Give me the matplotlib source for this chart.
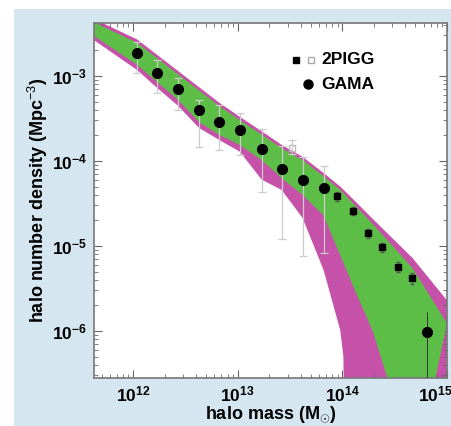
import numpy as np
import matplotlib
matplotlib.use("Agg")
from matplotlib import pyplot as plt
from matplotlib.patches import Rectangle
import matplotlib.transforms as mtransforms

plt.rcParams['font.family'] = ['Liberation Sans Narrow', 'Liberation Sans', 'DejaVu Sans']
plt.rcParams['mathtext.fontset'] = 'custom'
plt.rcParams['mathtext.rm'] = 'Liberation Sans'

# band edges, log10 of halo mass and log10 of number density
band_logm = [11.63, 12.04, 12.23, 12.43, 12.63, 12.82, 13.02, 13.23, 13.42, 13.62,
             13.82, 13.98, 14.12, 14.29, 14.43, 14.67, 15.0]
green_top = [-2.37, -2.61, -2.79, -2.98, -3.17, -3.35, -3.52, -3.69, -3.85, -3.99,
             -4.18, -4.34, -4.52, -4.74, -4.93, -5.26, -5.91]
magenta_top = [-2.33, -2.57, -2.75, -2.94, -3.13, -3.31, -3.48, -3.65, -3.81, -3.95,
               -4.14, -4.30, -4.47, -4.68, -4.85, -5.14, -5.64]

green_bot_logm = [11.63, 12.04, 12.23, 12.43, 12.63, 12.82, 13.02, 13.23, 13.42, 13.62,
                  13.82, 13.98, 14.12, 14.29, 14.43, 14.47]
green_bot = [-2.53, -2.87, -3.07, -3.28, -3.54, -3.69, -3.81, -3.99, -4.20, -4.40,
             -4.64, -5.11, -5.52, -6.00, -6.55, -9.0]

magenta_bot_logm = [11.63, 12.04, 12.23, 12.43, 12.63, 12.82, 13.02, 13.23, 13.42, 13.62,
                    13.82, 13.98, 14.01, 14.04]
magenta_bot = [-2.58, -2.93, -3.14, -3.35, -3.61, -3.75, -3.89, -4.22, -4.34, -4.67,
               -5.28, -5.99, -6.30, -9.0]

# GAMA points
gama_mass = [1.09e12, 1.70e12, 2.69e12, 4.27e12, 6.62e12, 1.05e13, 1.71e13, 2.65e13, 4.21e13, 6.67e13, 6.43e14]
gama_n = [1.87e-3, 1.08e-3, 7.0e-4, 4.0e-4, 2.88e-4, 2.32e-4, 1.38e-4, 8.05e-5, 5.97e-5, 4.81e-5, 9.7e-7]
gama_hi = [2.51e-3, 1.54e-3, 9.5e-4, 5.2e-4, 4.56e-4, 3.67e-4, 2.38e-4, 1.50e-4, 1.11e-4, 8.7e-5, 1.67e-6]
gama_lo = [1.08e-3, 6.3e-4, 4.0e-4, 1.46e-4, 1.35e-4, 1.18e-4, 4.3e-5, 1.21e-5, 7.6e-6, 8.3e-6, 1e-8]

# 2PIGG points
pigg_mass = [8.9e13, 1.26e14, 1.75e14, 2.39e14, 3.40e14, 4.62e14]
pigg_n = [3.87e-5, 2.58e-5, 1.42e-5, 9.7e-6, 5.66e-6, 4.2e-6]
pigg_hi = [4.3e-5, 2.85e-5, 1.6e-5, 1.08e-5, 6.4e-6, 4.8e-6]
pigg_lo = [3.4e-5, 2.3e-5, 1.25e-5, 8.5e-6, 4.9e-6, 3.6e-6]
pigg_open_mass = [3.3e13]
pigg_open_n = [1.42e-4]
pigg_open_hi = [1.75e-4]
pigg_open_lo = [1.2e-4]

green = '#5dbe47'
magenta = '#c651a9'
bg = '#d6e6f0'

fig = plt.figure(figsize=(4.52, 4.26), dpi=100)
fig.patch.set_facecolor('white')
fig.patches.append(Rectangle((14 / 452, 0), 1, 1 - 9 / 426, transform=fig.transFigure,
                             facecolor=bg, edgecolor='none', zorder=-10))
ax = fig.add_axes([94 / 452, 1 - 378 / 426, 353 / 452, 355 / 426])
ax.set_facecolor('white')

bm = 10 ** np.array(band_logm)
# magenta envelope, closed far below the axes
mx = np.concatenate([bm, [1e15, 1e15], 10 ** np.array(magenta_bot_logm)[::-1]])
my = np.concatenate([10 ** np.array(magenta_top), [1e-10, 1e-10], 10 ** np.array(magenta_bot)[::-1]])
ax.fill(mx, my, color=magenta, lw=0, zorder=1)
gx = np.concatenate([bm, 10 ** np.array(green_bot_logm)[::-1]])
gy = np.concatenate([10 ** np.array(green_top), 10 ** np.array(green_bot)[::-1]])
ax.fill(gx, gy, color=green, lw=0, zorder=2)

gm = np.array(gama_mass); gn = np.array(gama_n)
ax.errorbar(gm[:-1], gn[:-1], yerr=[gn[:-1] - np.array(gama_lo[:-1]), np.array(gama_hi[:-1]) - gn[:-1]],
            fmt='none', ecolor='#cccccc', elinewidth=0.9, capsize=3, capthick=0.9, zorder=3)
ax.errorbar(gm[-1:], gn[-1:], yerr=[gn[-1:] - np.array(gama_lo[-1:]), np.array(gama_hi[-1:]) - gn[-1:]],
            fmt='none', ecolor='#333333', elinewidth=0.7, capsize=0, zorder=3)
po = np.array(pigg_open_n)
ax.errorbar(pigg_open_mass, po, yerr=[po - np.array(pigg_open_lo), np.array(pigg_open_hi) - po],
            fmt='s', mfc='none', mec='#bbbbbb', ms=4, ecolor='#cccccc', elinewidth=0.9, capsize=3, zorder=3)
pn = np.array(pigg_n)
ax.errorbar(pigg_mass, pn, yerr=[pn - np.array(pigg_lo), np.array(pigg_hi) - pn],
            fmt='s', color='black', ms=4, ecolor='#555555', elinewidth=0.5, capsize=1.5, zorder=4)
ax.plot(gm, gn, 'o', color='black', ms=7, zorder=5)

ax.set_xscale('log')
ax.set_yscale('log')
ax.set_xlim(10 ** 11.627, 1e15)
ax.set_ylim(10 ** -6.553, 10 ** -2.376)
ax.tick_params(which='both', direction='in', top=True, right=True, color='#666666')
ax.tick_params(which='major', length=6, labelsize=12.5, pad=5)
ax.tick_params(which='minor', length=3)
ax.set_xticks([1e12, 1e13, 1e14, 1e15])
for lab in ax.get_xticklabels() + ax.get_yticklabels():
    lab.set_fontweight('bold')
# last mass label sits against the right edge
last = ax.get_xticklabels()[-1]
last.set_horizontalalignment('right')
last.set_transform(last.get_transform() + mtransforms.ScaledTranslation(4 / 72, 0, fig.dpi_scale_trans))
for s in ax.spines.values():
    s.set_color('#777777')
    s.set_linewidth(1.2)

ax.set_xlabel(r'halo mass (M$_{\odot}$)', fontsize=13, fontweight='bold', labelpad=0)
ax.set_ylabel(r'halo number density (Mpc$^{-3}$)', fontsize=13, fontweight='bold', labelpad=1)

# legend drawn by hand
ax.plot([0.572], [0.896], 's', color='black', ms=4, transform=ax.transAxes, zorder=6)
ax.plot([0.615], [0.896], 's', mfc='none', mec='#aaaaaa', ms=4.5, transform=ax.transAxes, zorder=6)
ax.text(0.643, 0.896, '2PIGG', transform=ax.transAxes, fontsize=12.5, fontweight='bold',
        va='center', ha='left', zorder=6)
ax.plot([0.606], [0.828], 'o', color='black', ms=6.5, transform=ax.transAxes, zorder=6)
ax.text(0.643, 0.828, 'GAMA', transform=ax.transAxes, fontsize=12.5, fontweight='bold',
        va='center', ha='left', zorder=6)

fig.savefig('out.png', dpi=100)
